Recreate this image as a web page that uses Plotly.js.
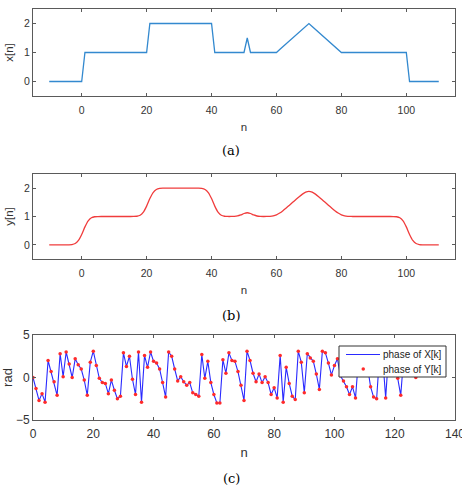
<!DOCTYPE html>
<html>
<head>
<meta charset="utf-8">
<script src="https://cdn.plot.ly/plotly-3.0.1.min.js"></script>
<style>
  html, body { margin: 0; padding: 0; background: #fff; }
  #chart { width: 462px; height: 490px; }
</style>
</head>
<body>
<div id="chart"></div>
<script>
// Sample index for the time-domain signals
const nTime = [
  -10, -9, -8, -7, -6, -5, -4, -3, -2, -1,
  0, 1, 2, 3, 4, 5, 6, 7, 8, 9,
  10, 11, 12, 13, 14, 15, 16, 17, 18, 19,
  20, 21, 22, 23, 24, 25, 26, 27, 28, 29,
  30, 31, 32, 33, 34, 35, 36, 37, 38, 39,
  40, 41, 42, 43, 44, 45, 46, 47, 48, 49,
  50, 51, 52, 53, 54, 55, 56, 57, 58, 59,
  60, 61, 62, 63, 64, 65, 66, 67, 68, 69,
  70, 71, 72, 73, 74, 75, 76, 77, 78, 79,
  80, 81, 82, 83, 84, 85, 86, 87, 88, 89,
  90, 91, 92, 93, 94, 95, 96, 97, 98, 99,
  100, 101, 102, 103, 104, 105, 106, 107, 108, 109,
  110
];

// Input signal x[n]
const xSignal = [
  0, 0, 0, 0, 0, 0, 0, 0, 0, 0,
  0, 1, 1, 1, 1, 1, 1, 1, 1, 1,
  1, 1, 1, 1, 1, 1, 1, 1, 1, 1,
  1, 2, 2, 2, 2, 2, 2, 2, 2, 2,
  2, 2, 2, 2, 2, 2, 2, 2, 2, 2,
  2, 1, 1, 1, 1, 1, 1, 1, 1, 1,
  1, 1.5, 1, 1, 1, 1, 1, 1, 1, 1,
  1, 1.1, 1.2, 1.3, 1.4, 1.5, 1.6, 1.7, 1.8, 1.9,
  2, 1.9, 1.8, 1.7, 1.6, 1.5, 1.4, 1.3, 1.2, 1.1,
  1, 1, 1, 1, 1, 1, 1, 1, 1, 1,
  1, 1, 1, 1, 1, 1, 1, 1, 1, 1,
  1, 0, 0, 0, 0, 0, 0, 0, 0, 0,
  0
];

// Smoothed output y[n]
const ySignal = [
  0, 0, 0, 0, 0, 0, 0.001, 0.009, 0.045, 0.154,
  0.367, 0.633, 0.846, 0.955, 0.991, 0.999, 1, 1, 1, 1,
  1, 1, 1, 1, 1, 1, 1.001, 1.009, 1.045, 1.154,
  1.367, 1.633, 1.846, 1.955, 1.991, 1.999, 2, 2, 2, 2,
  2, 2, 2, 2, 2, 2, 1.999, 1.991, 1.955, 1.846,
  1.633, 1.367, 1.154, 1.045, 1.009, 1.001, 1.001, 1.004, 1.018, 1.054,
  1.106, 1.133, 1.106, 1.054, 1.018, 1.004, 1.0, 1.001, 1.005, 1.021,
  1.057, 1.121, 1.205, 1.301, 1.4, 1.5, 1.6, 1.698, 1.789, 1.858,
  1.885, 1.858, 1.789, 1.698, 1.6, 1.5, 1.4, 1.301, 1.205, 1.121,
  1.057, 1.021, 1.005, 1.001, 1, 1, 1, 1, 1, 1,
  1, 1, 1, 1, 1, 1, 0.999, 0.991, 0.955, 0.846,
  0.633, 0.367, 0.154, 0.045, 0.009, 0.001, 0, 0, 0, 0,
  0
];

// Frequency index k
const kIndex = [
  0, 1, 2, 3, 4, 5, 6, 7, 8, 9,
  10, 11, 12, 13, 14, 15, 16, 17, 18, 19,
  20, 21, 22, 23, 24, 25, 26, 27, 28, 29,
  30, 31, 32, 33, 34, 35, 36, 37, 38, 39,
  40, 41, 42, 43, 44, 45, 46, 47, 48, 49,
  50, 51, 52, 53, 54, 55, 56, 57, 58, 59,
  60, 61, 62, 63, 64, 65, 66, 67, 68, 69,
  70, 71, 72, 73, 74, 75, 76, 77, 78, 79,
  80, 81, 82, 83, 84, 85, 86, 87, 88, 89,
  90, 91, 92, 93, 94, 95, 96, 97, 98, 99,
  100, 101, 102, 103, 104, 105, 106, 107, 108, 109,
  110, 111, 112, 113, 114, 115, 116, 117, 118, 119,
  120, 121, 122, 123, 124, 125, 126, 127
];

// Phase of X[k] in radians
const phaseX = [
  0.0, -1.3, -2.7, -1.9, -2.9, 2.0, 0.7, -0.5, -2.1, 2.8,
  0.1, 3.0, 1.6, 0.0, 2.2, 1.5, 1.0, -0.3, -2.1, 1.8,
  3.1, 1.4, -0.1, -0.6, -0.7, -1.9, -0.3, -1.5, -2.5, -2.2,
  2.9, 1.3, 2.5, -0.2, -2.0, 3.0, -2.9, 2.6, 1.2, 3.0,
  1.9, 1.7, 1.0, -0.6, -2.3, 3.0, 2.5, 1.0, -0.4, 0.1,
  -0.5, -0.9, -0.6, -1.8, -2.0, -2.2, 2.7, -0.1, 1.9, -0.6,
  -2.0, -3.0, -3.0, 2.1, 0.5, 2.9, 2.0, 1.9, 0.7, -0.9,
  -2.7, 3.1, 2.0, 0.5, -0.5, 0.4, -0.6, 0.1, -0.6, -2.0,
  -1.2, -2.4, 2.6, -2.9, 1.2, -0.7, -2.2, -2.6, 3.1, 1.8,
  -1.8, 2.8, 2.3, 1.9, 0.4, -1.4, 3.1, 2.9, 1.7, 0.3,
  1.4, 2.2, 0.2, -0.4, -1.1, -2.0, -1.1, -2.4, 2.3, 1.0,
  2.6, 1.2, -1.1, -2.3, -2.5, 2.8, 2.4, -2.4, 2.9, 1.9,
  0.8, -0.1, -2.1, 2.5, 1.6, 2.1, 0.8, 0.0
];

// Phase of Y[k]: the smoothing filter leaves the phase unchanged
const phaseY = phaseX;

const W = 462, H = 490;
const px = v => v / W;          // pixel -> paper x
const py = v => 1 - v / H;      // pixel -> paper y

const sans = 'Liberation Sans, Arial, sans-serif';
const tickFont = { family: sans, size: 10.5, color: '#333333' };
const titleFont = { family: sans, size: 11.5, color: '#333333' };
const tickFontC = { family: sans, size: 12, color: '#333333' };
const titleFontC = { family: sans, size: 13, color: '#333333' };
const capFont = { family: 'DejaVu Serif, Liberation Serif, serif', size: 13, color: '#000000' };
const legFont = { family: sans, size: 10, color: '#222222' };

const blueX = '#3389cf';
const redY = '#f03c3c';
const blueP = '#2a2aff';
const redP = '#ff2a2a';

function axisStyle(extra) {
  return Object.assign({
    showline: true,
    linecolor: '#5a5a5a',
    linewidth: 1,
    mirror: 'allticks',
    ticks: 'inside',
    ticklen: 3,
    tickwidth: 1,
    tickcolor: '#5a5a5a',
    showgrid: false,
    zeroline: false,
    tickfont: tickFont,
    fixedrange: true
  }, extra);
}

const xDom = [px(33), px(455)];

const traces = [
  {
    x: nTime, y: xSignal, xaxis: 'x', yaxis: 'y',
    type: 'scatter', mode: 'lines', name: 'x[n]',
    line: { color: blueX, width: 1.3 },
    showlegend: false
  },
  {
    x: nTime, y: ySignal, xaxis: 'x2', yaxis: 'y2',
    type: 'scatter', mode: 'lines', name: 'y[n]',
    line: { color: redY, width: 1.3, shape: 'spline', smoothing: 0.6 },
    showlegend: false
  },
  {
    x: kIndex, y: phaseX, xaxis: 'x3', yaxis: 'y3',
    type: 'scatter', mode: 'lines',
    name: 'phase of X[k]',
    line: { color: blueP, width: 1.1 },
    showlegend: false
  },
  {
    x: kIndex, y: phaseY, xaxis: 'x3', yaxis: 'y3',
    type: 'scatter', mode: 'markers',
    name: 'phase of Y[k]',
    marker: { color: redP, size: 3.5 },
    showlegend: false
  }
];

// Boxed legend for panel (c), drawn on top of the phase traces
const legendShapes = [
  { type: 'rect', xref: 'paper', yref: 'paper',
    x0: px(339), x1: px(446), y0: py(377), y1: py(346),
    fillcolor: '#ffffff', line: { color: '#333333', width: 1 }, layer: 'above' },
  { type: 'line', xref: 'paper', yref: 'paper',
    x0: px(346), x1: px(380), y0: py(354.5), y1: py(354.5),
    line: { color: blueP, width: 1.1 }, layer: 'above' },
  { type: 'circle', xref: 'paper', yref: 'paper',
    x0: px(361.5), x1: px(365), y0: py(370.7), y1: py(367.2),
    fillcolor: redP, line: { color: redP, width: 0 }, layer: 'above' }
];

const layout = {
  width: W,
  height: H,
  margin: { l: 0, r: 0, t: 0, b: 0 },
  paper_bgcolor: '#ffffff',
  plot_bgcolor: '#ffffff',
  showlegend: false,
  xaxis: axisStyle({
    domain: xDom, anchor: 'y', range: [-15, 115],
    tickvals: [0, 20, 40, 60, 80, 100], ticklabelstandoff: 4,
    title: { text: 'n', font: titleFont, standoff: 8 }
  }),
  yaxis: axisStyle({
    domain: [py(96), py(9)], anchor: 'x', range: [-0.5, 2.5],
    tickvals: [0, 1, 2],
    title: { text: 'x[n]', font: titleFont, standoff: 8 }
  }),
  xaxis2: axisStyle({
    domain: xDom, anchor: 'y2', range: [-15, 115],
    tickvals: [0, 20, 40, 60, 80, 100], ticklabelstandoff: 4,
    title: { text: 'n', font: titleFont, standoff: 8 }
  }),
  yaxis2: axisStyle({
    domain: [py(259), py(174)], anchor: 'x2', range: [-0.5, 2.5],
    tickvals: [0, 1, 2],
    title: { text: 'y[n]', font: titleFont, standoff: 8 }
  }),
  xaxis3: axisStyle({
    domain: xDom, anchor: 'y3', range: [0, 140],
    tickvals: [0, 20, 40, 60, 80, 100, 120, 140], ticklabelstandoff: 3,
    ticklabeloverflow: 'allow', tickfont: tickFontC,
    title: { text: 'n', font: titleFontC, standoff: 7 }
  }),
  yaxis3: axisStyle({
    domain: [py(420), py(335)], anchor: 'x3', range: [-5, 5],
    tickvals: [-5, 0, 5], tickfont: tickFontC,
    title: { text: 'rad', font: titleFontC, standoff: 6 }
  }),
  shapes: legendShapes,
  annotations: [
    { text: '(a)', x: 0.5, y: py(150), xref: 'paper', yref: 'paper', showarrow: false, font: capFont, xanchor: 'center', yanchor: 'middle' },
    { text: '(b)', x: 0.5, y: py(315), xref: 'paper', yref: 'paper', showarrow: false, font: capFont, xanchor: 'center', yanchor: 'middle' },
    { text: '(c)', x: 0.5, y: py(478), xref: 'paper', yref: 'paper', showarrow: false, font: capFont, xanchor: 'center', yanchor: 'middle' },
    { text: 'phase of X[k]', x: px(381), y: py(354.5), xref: 'paper', yref: 'paper', showarrow: false, font: legFont, xanchor: 'left', yanchor: 'middle' },
    { text: 'phase of Y[k]', x: px(381), y: py(369), xref: 'paper', yref: 'paper', showarrow: false, font: legFont, xanchor: 'left', yanchor: 'middle' }
  ]
};

Plotly.newPlot('chart', traces, layout, { displayModeBar: false, staticPlot: true });
</script>
</body>
</html>
